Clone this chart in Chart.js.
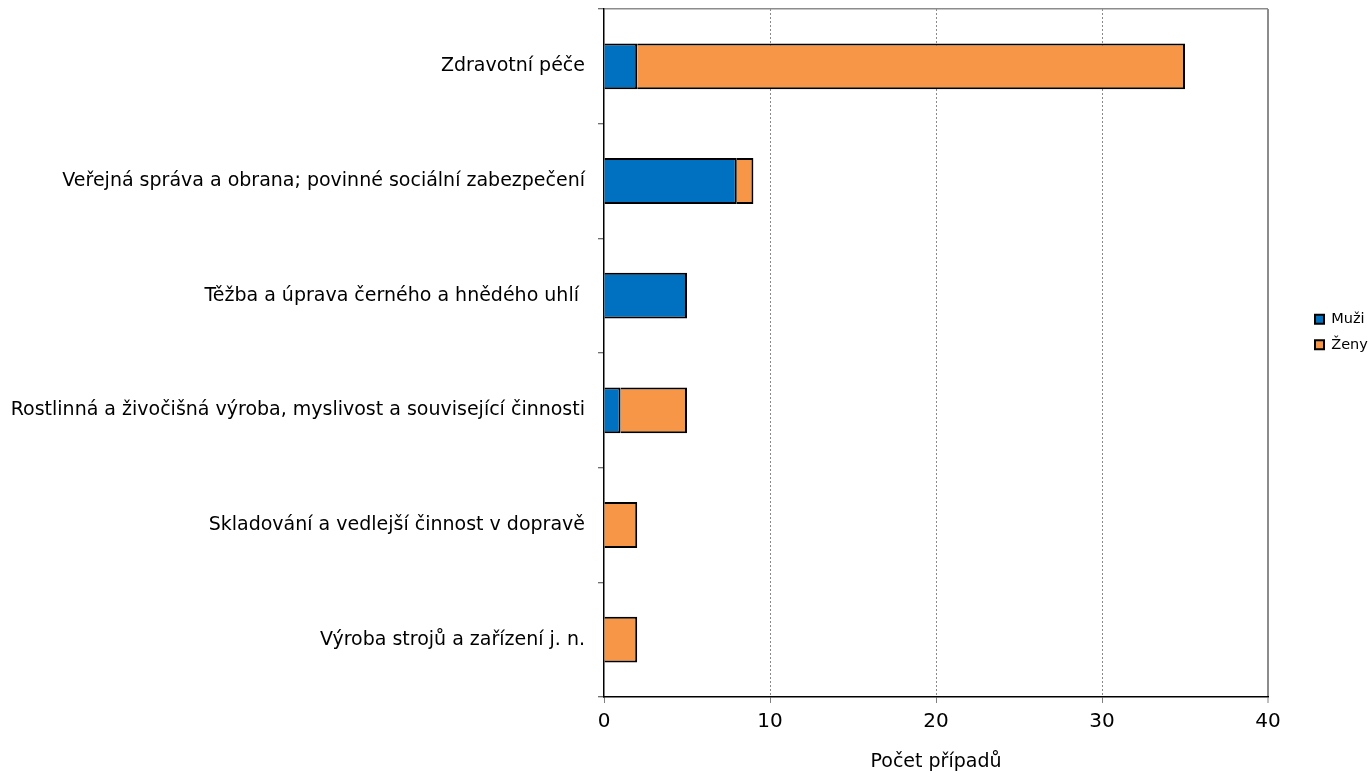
<!DOCTYPE html>
<html><head><meta charset="utf-8">
<script src="https://cdn.jsdelivr.net/npm/chart.js@4.4.1/dist/chart.umd.min.js"></script>
<style>html,body{margin:0;padding:0;background:#fff}#c{display:block}</style>
</head><body>
<canvas id="c" width="1368" height="774"></canvas>
<script>
const categories = [
  'Zdravotní péče',
  'Veřejná správa a obrana; povinné sociální zabezpečení',
  'Těžba a úprava černého a hnědého uhlí ',
  'Rostlinná a živočišná výroba, myslivost a související činnosti',
  'Skladování a vedlejší činnost v dopravě',
  'Výroba strojů a zařízení j. n.'
];
const muzi = [2, 8, 5, 1, 0, 0];
const zeny = [33, 1, 0, 4, 2, 2];
const xTicks = [0, 10, 20, 30, 40];
const seriesNames = ['Muži', 'Ženy'];
const axisTitle = 'Počet případů';

Chart.defaults.font.family = 'DejaVu Sans';
Chart.defaults.color = '#000';

function noPad(s) { s.paddingTop = 0; s.paddingBottom = 0; s.paddingLeft = 0; s.paddingRight = 0; }

new Chart(document.getElementById('c'), {
  type: 'bar',
  data: {
    labels: categories,
    datasets: [
      {label: seriesNames[0], data: muzi, backgroundColor: '#0070C0', borderColor: '#000', borderWidth: 2, barPercentage: 0.4, categoryPercentage: 1},
      {label: seriesNames[1], data: zeny, backgroundColor: '#F79646', borderColor: '#000', borderWidth: 2, barPercentage: 0.4, categoryPercentage: 1}
    ]
  },
  options: {
    indexAxis: 'y',
    responsive: false,
    animation: false,
    layout: {padding: {left: 0, right: 0, top: 9, bottom: 0}},
    plugins: {
      tooltip: {enabled: false},
      legend: {
        position: 'right',
        fullSize: false,
        align: 'start',
        maxWidth: 64,
        title: {display: true, text: ' ', font: {size: 10}, padding: {top: 280, bottom: 0}},
        labels: {boxWidth: 9, boxHeight: 9, padding: 11, color: '#000', font: {family: 'DejaVu Sans', size: 14.5}}
      }
    },
    scales: {
      x: {
        stacked: true,
        min: 0, max: 40,
        afterBuildTicks: s => { s.ticks = xTicks.map(v => ({value: v})); },
        afterFit: s => { s.height = 77; noPad(s); },
        ticks: {font: {family: 'DejaVu Sans', size: 20}, color: '#000', padding: 7, maxRotation: 0},
        grid: {
          color: c => (c.tick && c.tick.value === 0) ? 'rgba(0,0,0,0)' : (c.tick && c.tick.value === 40 ? '#8c8c8c' : '#8a8a8a'),
          lineWidth: c => (c.tick && c.tick.value === 40) ? 2 : 1,
          tickColor: '#808080', tickWidth: 1, tickLength: 6
        },
        border: {color: '#000', width: 1.5, dash: c => (c.tick && c.tick.value !== 40 && c.tick.value !== 0) ? [2, 2] : []},
        title: {display: true, text: axisTitle, font: {family: 'DejaVu Sans', size: 19}, color: '#000', padding: {top: 0, bottom: 1}}
      },
      y: {
        stacked: true,
        afterFit: s => { s.width = 604; noPad(s); },
        ticks: {font: {family: 'DejaVu Sans', size: 19}, color: '#000', padding: 13, autoSkip: false},
        grid: {
          offset: true,
          color: c => c.index === 0 ? '#8c8c8c' : 'rgba(0,0,0,0)',
          lineWidth: 1.5,
          tickColor: '#404040', tickWidth: 1, tickLength: 6
        },
        border: {color: '#000', width: 1.5}
      },
      spacer: {
        type: 'category', axis: 'y', position: 'right', display: true,
        grid: {display: false}, border: {display: false}, ticks: {display: false},
        afterFit: s => { s.width = 36; noPad(s); }
      }
    }
  }
});
</script>
</body></html>
